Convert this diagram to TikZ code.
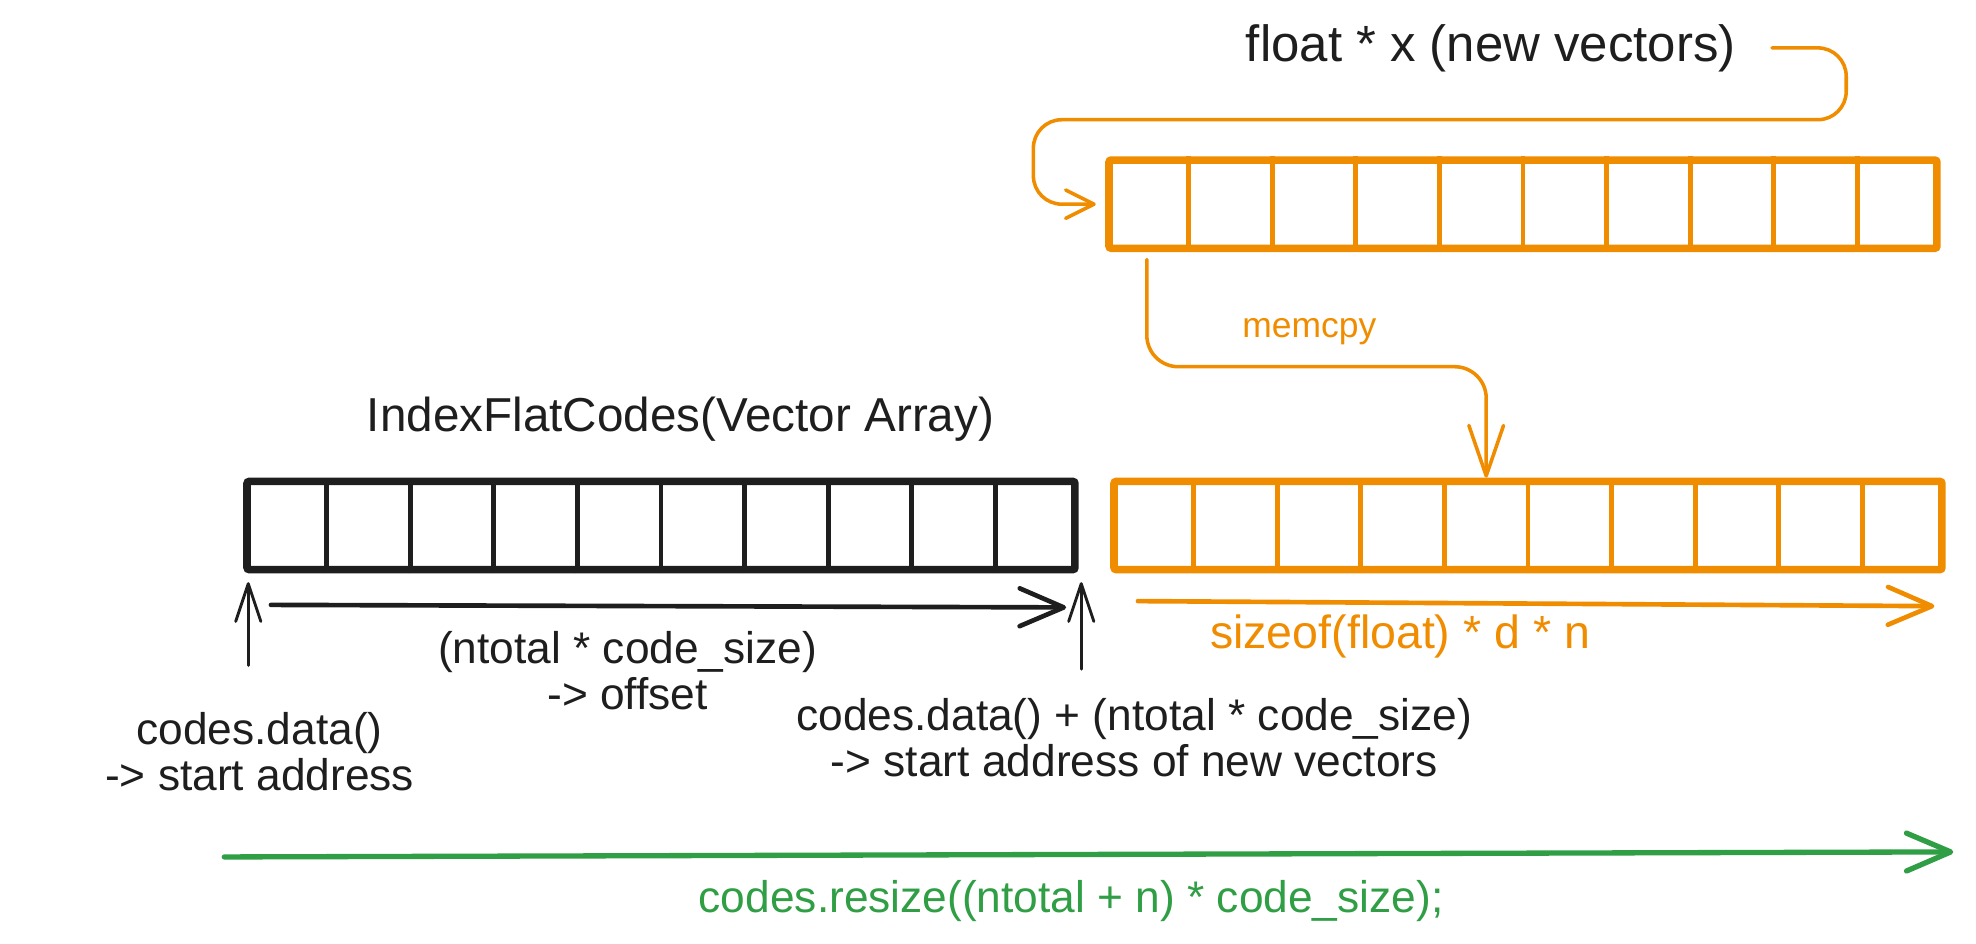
\documentclass[tikz,border=0pt]{standalone}
\usepackage{fontspec}
\setmainfont{Liberation Sans}
\usetikzlibrary{arrows.meta,positioning,calc}
\definecolor{inkcolor}{HTML}{1E1E1E}
\definecolor{copycolor}{HTML}{F08C00}
\definecolor{resizecolor}{HTML}{2F9E44}

\begin{document}
\begin{tikzpicture}[
    every node/.style={font=\fontsize{20}{21}\selectfont, inner sep=2pt},
    title/.style={font=\fontsize{23}{26}\selectfont},
    array/.style={rectangle, draw, line width=3.4pt, rounded corners=1pt, minimum width=13.14cm, minimum height=1.4cm, inner sep=0pt},
    cellsep/.style={line width=2.2pt},
    thinedge/.style={-{Straight Barb[length=4.5mm, width=4.5mm, round]}, line width=1.6pt, line cap=round},
    thickedge/.style={-{Straight Barb[length=7mm, width=6mm, round]}, line width=2.1pt, line cap=round}
]
    \useasboundingbox (0,0) rectangle (31.36,-14.98);

    % Arrays
    \node[array, draw=copycolor] (vecs) at (24.17,-3.24) {};
    \node[array, draw=inkcolor] (codes) at (10.49,-8.34) {};
    \node[array, draw=copycolor, right=0.5cm of codes] (tail) {};
    \foreach \a/\c in {vecs/copycolor, codes/inkcolor, tail/copycolor}
      \foreach \i in {1,...,9}
        \draw[cellsep, \c] ($(\a.south west)!\i/10!(\a.south east)$) -- ($(\a.north west)!\i/10!(\a.north east)$);

    % Labels
    \node[title, text=inkcolor] (vecslbl) at (23.66,-0.76) {float * x (new vectors)};
    \node[title, text=inkcolor, font=\fontsize{21.5}{24}\selectfont] (codeslbl) at (10.8,-6.66) {IndexFlatCodes(Vector Array)};
    \node[text=copycolor, font=\fontsize{16}{19}\selectfont] (cpylbl) at (20.78,-5.26) {memcpy};
    \node[text=copycolor, font=\fontsize{21}{24}\selectfont] (sizelbl) at (22.22,-10.1) {sizeof(float) * d * n};
    \node[text=inkcolor, align=center] (offlbl) at (9.96,-10.64) {(ntotal * code\_size)\\-> offset};
    \node[text=inkcolor, align=center] (startlbl) at (4.12,-11.93) {codes.data()\\-> start address};
    \node[text=inkcolor, align=center] (endlbl) at (18.0,-11.71) {codes.data() + (ntotal * code\_size)\\-> start address of new vectors};
    \node[text=resizecolor] (resizelbl) at (17.0,-14.3) {codes.resize((ntotal + n) * code\_size);};

    \coordinate (cpy) at ($(vecs.south west)+(0.66,-0.12)$);
    \coordinate (base0) at ($(codes.south west)+(0.08,-1.46)$);
    \coordinate (base1) at ($(codes.south east)+(0.04,-1.52)$);
    \coordinate (rs0) at (3.56,-13.6);
    \coordinate (rs1) at (31.0,-13.52);

    % Edges
    \draw[thinedge, copycolor, rounded corners=0.45cm] ([xshift=0.5cm]vecslbl.east) -- (29.3,-0.76) -- (29.3,-1.9) -- (16.4,-1.9) -- (16.4,-3.24) -- ([xshift=-0.15cm]vecs.west);
    \draw[thinedge, copycolor, rounded corners=0.5cm, -{Straight Barb[length=8mm, width=5.5mm, round]}] (cpy) -- ++(0,-1.7) -| ($(tail.north west)!0.45!(tail.north east)$);
    \draw[thickedge, inkcolor] ([shift={(0.44,-0.5)}]codes.south west) -- ([shift={(-0.2,-0.54)}]codes.south east);
    \draw[thinedge, inkcolor, line width=1.3pt, -{Straight Barb[length=6mm, width=4mm, round]}] (base0) -- ([shift={(0.08,-0.14)}]codes.south west);
    \draw[thinedge, inkcolor, line width=1.3pt, -{Straight Barb[length=6mm, width=4mm, round]}] (base1) -- ([shift={(0.04,-0.14)}]codes.south east);
    \draw[thickedge, copycolor] ([shift={(0.44,-0.44)}]tail.south west) -- ([shift={(-0.18,-0.52)}]tail.south east);
    \draw[thickedge, resizecolor, line width=2.4pt] (rs0) -- (rs1);
\end{tikzpicture}
\end{document}
